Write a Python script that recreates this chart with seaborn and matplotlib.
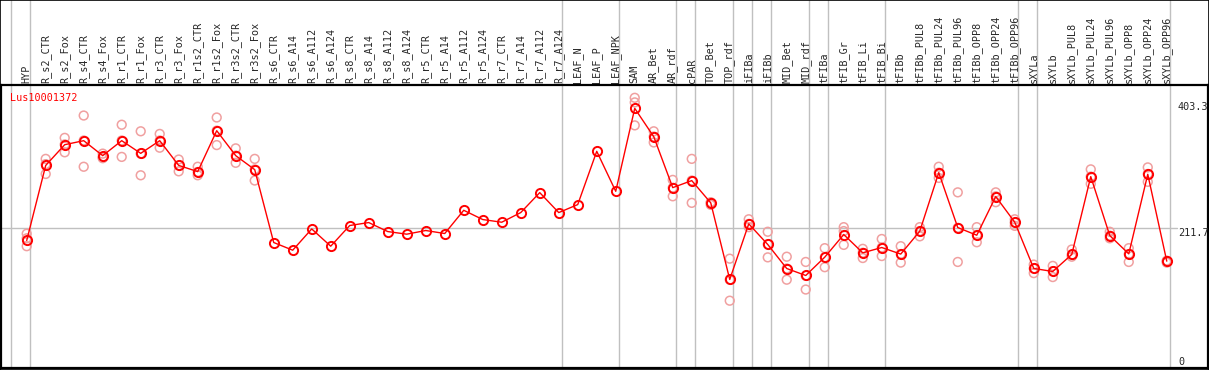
import pandas as pd
import matplotlib
matplotlib.use("Agg")
import matplotlib.pyplot as plt
import matplotlib.transforms as mtransforms
import seaborn as sns

gene = "Lus10001372"

samples = ["HYP", "R_s2_CTR", "R_s2_Fox", "R_s4_CTR", "R_s4_Fox", "R_r1_CTR", "R_r1_Fox",
           "R_r3_CTR", "R_r3_Fox", "R_r1s2_CTR", "R_r1s2_Fox", "R_r3s2_CTR", "R_r3s2_Fox",
           "R_s6_CTR", "R_s6_A14", "R_s6_A112", "R_s6_A124", "R_s8_CTR", "R_s8_A14",
           "R_s8_A112", "R_s8_A124", "R_r5_CTR", "R_r5_A14", "R_r5_A112", "R_r5_A124",
           "R_r7_CTR", "R_r7_A14", "R_r7_A112", "R_r7_A124", "LEAF_N", "LEAF_P", "LEAF_NPK",
           "SAM", "AR_Bet", "AR_rdf", "cPAR", "TOP_Bet", "TOP_rdf", "iFIBa", "iFIBb",
           "MID_Bet", "MID_rdf", "tFIBa", "tFIB_Gr", "tFIB_Li", "tFIB_Bi", "tFIBb",
           "tFIBb_PUL8", "tFIBb_PUL24", "tFIBb_PUL96", "tFIBb_OPP8", "tFIBb_OPP24",
           "tFIBb_OPP96", "sXYLa", "sXYLb", "sXYLb_PUL8", "sXYLb_PUL24", "sXYLb_PUL96",
           "sXYLb_OPP8", "sXYLb_OPP24", "sXYLb_OPP96"]

means = [192.7, 307, 338.6, 344.7, 321.9, 344.7, 325.4, 344.7, 307, 297.6, 359.9, 321.9,
         300.6, 189.6, 177.9, 210.3, 184, 215.5, 220, 206.3, 202.3, 207.9, 203.3, 238.7,
         224.6, 220.5, 235.2, 265.6, 235.2, 247.4, 328.5, 267.6, 393.9, 350.8, 273.2,
         283.9, 250, 133.3, 218, 186.6, 150, 139.4, 167.3, 201.8, 173.9, 182, 172, 206.8,
         296, 212.4, 200.7, 259.6, 220.5, 150.1, 145.5, 171.4, 290, 200.2, 172.3, 293.5,
         161.2]

# replicate values per sample (empty where only the mean is shown)
replicates = [[203, 196, 184], [317, 309, 294], [349, 339, 327], [383, 345, 305],
              [325, 320, 318], [369, 345, 320], [359, 325, 292], [355, 345, 334],
              [316, 307, 298], [305, 297, 292], [380, 360, 338], [333, 322, 311],
              [317, 301, 284],
              [], [], [], [], [], [], [], [], [], [], [], [], [], [], [], [], [], [], [],
              [410, 403, 368], [359, 351, 342], [285, 273, 260], [317, 284, 250],
              [251, 250, 247], [165, 133, 101], [225, 218, 213], [206, 187, 167],
              [168, 150, 133], [160, 139, 118], [181, 167, 152], [213, 207, 186],
              [180, 174, 166], [195, 182, 169], [184, 172, 159], [213, 207, 199],
              [305, 296, 288], [266, 212, 160], [213, 201, 190], [266, 260, 251],
              [225, 220, 215], [156, 150, 143], [154, 146, 137], [179, 171, 168],
              [301, 290, 279], [206, 200, 196], [181, 172, 160], [304, 294, 282],
              [162, 161, 159]]

# group boundaries: vertical separators after these sample positions
group_ends = [-1, 0, 28, 31, 34, 35, 37, 38, 39, 41, 42, 45, 52, 53, 60]

y_ticks = [403.3, 211.7, 0]

mean_df = pd.DataFrame({"pos": range(len(samples)), "value": means})
rep_df = pd.DataFrame([(i, v) for i, vals in enumerate(replicates) for v in vals],
                      columns=["pos", "value"])

sns.set_style("white")
plt.rcParams["font.family"] = ["DejaVu Sans Mono", "DejaVu Sans"]

W, H = 1209, 370
fig = plt.figure(figsize=(W / 100, H / 100), dpi=100)
top_px, bot_px = 85, 368
ax = fig.add_axes([1 / W, (H - bot_px) / H, 1207 / W, (bot_px - top_px) / H])

red = "#ff0000"
pink = "#f0a0a0"
grey = "#c0c0c0"

ax.axhline(y_ticks[1], xmin=0, xmax=(60.55 + 1.353) / (62.17 + 1.353), color=grey, lw=1, zorder=0)

hdr = (H - 0) / (bot_px - top_px) - (H - bot_px) / (bot_px - top_px)
for g in group_ends:
    ax.axvline(g + 0.17, ymin=0, ymax=hdr, color=grey, lw=1, clip_on=False, zorder=0)

sns.scatterplot(data=rep_df, x="pos", y="value", ax=ax, marker="o", s=40,
                facecolor="none", edgecolor=pink, linewidth=1.1, zorder=2)
sns.lineplot(data=mean_df, x="pos", y="value", ax=ax, color=red, lw=1,
             marker="o", markersize=6.6, markerfacecolor="none",
             markeredgecolor=red, markeredgewidth=1.4, zorder=3)

ax.set_xlim(-1.353, 62.17)
ax.set_ylim(-1.5, 429.5)
ax.set_xticks([])
ax.set_yticks([])
ax.set_xlabel("")
ax.set_ylabel("")
for s in ax.spines.values():
    s.set_color("black")
    s.set_linewidth(1.6)

trans = mtransforms.blended_transform_factory(ax.transData, ax.transAxes)
for i, name in enumerate(samples):
    ax.text(i, 1 + 2 / (bot_px - top_px), name, rotation=90, ha="center", va="bottom",
            fontsize=7.3, transform=trans, clip_on=False)

ytrans = mtransforms.blended_transform_factory(ax.transAxes, ax.transData)
for v in y_ticks:
    ax.text(1177 / 1207, v, f"{v:g}" if v else "0", ha="left",
            va="top" if v else "bottom", fontsize=7.3, transform=ytrans)

ax.text(9 / 1207, 0.955, gene, color=red, fontsize=7.3, ha="left", va="center",
        transform=ax.transAxes)

fig.add_artist(plt.Rectangle((0, 0), 1, 1, transform=fig.transFigure, fill=False,
                             edgecolor="black", lw=1.2))

fig.savefig("out.png", dpi=100)
